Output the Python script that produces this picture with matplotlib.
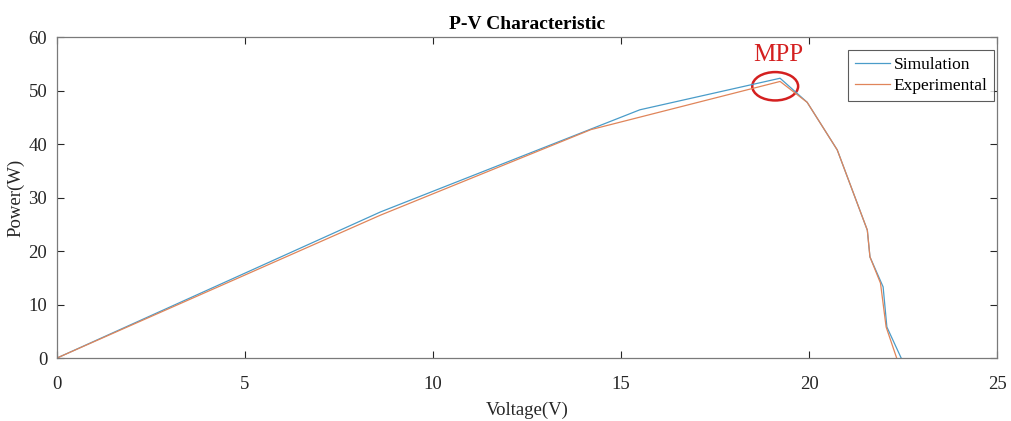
import matplotlib.pyplot as plt
from matplotlib.patches import Ellipse

# readings from the P-V curve (voltage in V, power in W)
sim_v = [0, 8.6, 15.5, 19.23, 19.95, 20.75, 21.55, 21.62, 21.97, 22.07, 22.45]
sim_p = [0, 27.3, 46.4, 52.3, 47.8, 38.9, 23.9, 18.9, 13.3, 5.8, 0]

exp_v = [0, 8.6, 14.2, 19.23, 19.95, 20.75, 21.55, 21.62, 21.9, 22.05, 22.33]
exp_p = [0, 26.7, 42.7, 51.7, 47.8, 38.9, 23.9, 18.9, 14.0, 5.8, 0]

x_ticks = [0, 5, 10, 15, 20, 25]
y_ticks = [0, 10, 20, 30, 40, 50, 60]

plt.rcParams['font.family'] = ['Liberation Serif', 'DejaVu Serif']

fig = plt.figure(figsize=(10.11, 4.21), dpi=100)
ax = fig.add_axes([0.0564, 0.1496, 0.9298, 0.7624])

ax.plot(sim_v, sim_p, color='#4a9cc9', lw=0.9, label='Simulation')
ax.plot(exp_v, exp_p, color='#e0855a', lw=0.9, label='Experimental')

# MPP marker
ax.add_patch(Ellipse((19.1, 50.8), 1.22, 5.3, fill=False, ec='#d42020', lw=1.8))
ax.text(19.17, 56.6, 'MPP', color='#d42020', fontsize=18, ha='center', va='center')

ax.set_xlim(0, 25)
ax.set_ylim(0, 60)
ax.set_xticks(x_ticks)
ax.set_yticks(y_ticks)
ax.tick_params(direction='in', top=True, right=True, labelsize=13.5, colors='#262626',
               length=5, width=0.8)
ax.tick_params(axis='x', pad=13)
ax.tick_params(axis='y', pad=7)
for s in ax.spines.values():
    s.set_color('#7a7a7a')
    s.set_linewidth(0.9)

ax.set_title('P-V Characteristic', fontsize=14, fontweight='bold', pad=6)
ax.set_xlabel('Voltage(V)', fontsize=13.5, color='#262626', labelpad=6)
ax.set_ylabel('Power(W)', fontsize=13.5, color='#262626', labelpad=3)

leg = ax.legend(loc='upper right', bbox_to_anchor=(0.997, 0.96), fontsize=12.5,
                frameon=True, fancybox=False, edgecolor='#333333',
                handlelength=2.0, borderpad=0.4, labelspacing=0.3,
                handletextpad=0.2, borderaxespad=0)
leg.get_frame().set_linewidth(0.8)

fig.savefig('out.png', dpi=100)
